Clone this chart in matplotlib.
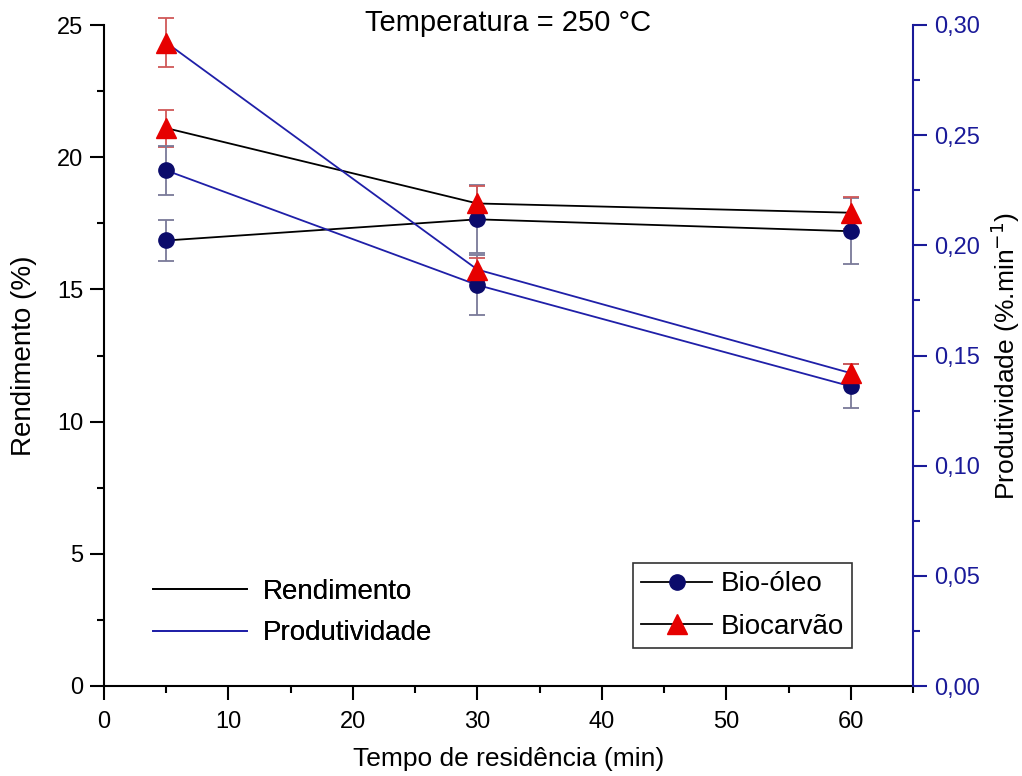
import matplotlib
matplotlib.use('Agg')
import matplotlib.pyplot as plt
from matplotlib.lines import Line2D
from matplotlib.ticker import MultipleLocator, FuncFormatter

plt.rcParams['font.family'] = ['Liberation Sans', 'DejaVu Sans']

# ---- data ----
tempo = [5, 30, 60]
rend_bio_oleo = [16.85, 17.65, 17.2]
rend_bio_oleo_err = [0.77, 1.28, 1.25]
rend_biocarvao = [21.1, 18.25, 17.9]
rend_biocarvao_err = [0.7, 0.65, 0.6]
prod_bio_oleo = [0.234, 0.182, 0.136]
prod_bio_oleo_err = [0.011, 0.0135, 0.010]
prod_biocarvao = [0.292, 0.189, 0.142]
prod_biocarvao_err = [0.011, 0.0054, 0.004]

left_ticks = [0, 5, 10, 15, 20, 25]
right_ticks = [0.00, 0.05, 0.10, 0.15, 0.20, 0.25, 0.30]
x_ticks = [0, 10, 20, 30, 40, 50, 60]

NAVY = '#0b0b6b'
RED = '#e60000'
BLUE = '#1f1fa8'
AXBLUE = '#1a1a99'
ERR_C = '#7a7a98'
ERR_T = '#d05858'

W, H = 1022, 776
fig = plt.figure(figsize=(W / 100, H / 100), dpi=100)
ax = fig.add_axes([104 / W, 90 / H, 809 / W, 661 / H])
ax2 = ax.twinx()

ms_c = 11
ms_t = 14
lw = 1.3
eb = dict(elinewidth=1.3, capsize=6, capthick=1.3, clip_on=False)
for a, y, e, fmt, col, mc, ecol, m in [
        (ax, rend_bio_oleo, rend_bio_oleo_err, '-o', 'black', NAVY, ERR_C, ms_c),
        (ax, rend_biocarvao, rend_biocarvao_err, '-^', 'black', RED, ERR_T, ms_t),
        (ax2, prod_bio_oleo, prod_bio_oleo_err, '-o', BLUE, NAVY, ERR_C, ms_c),
        (ax2, prod_biocarvao, prod_biocarvao_err, '-^', BLUE, RED, ERR_T, ms_t)]:
    cont = a.errorbar(tempo, y, yerr=e, fmt=fmt, color=col, lw=lw, mfc=mc, mec=mc,
                      ms=m, ecolor=ecol, **eb)
    for art in cont.lines[1] + cont.lines[2]:
        art.set_clip_on(False)

ax.set_xlim(0, 65)
ax.set_ylim(0, 25)
ax2.set_ylim(0, 0.30)

ax.set_xticks(x_ticks)
ax.xaxis.set_minor_locator(MultipleLocator(5))
ax.set_yticks(left_ticks)
ax.yaxis.set_minor_locator(MultipleLocator(2.5))
ax2.set_yticks(right_ticks)
ax2.yaxis.set_minor_locator(MultipleLocator(0.025))
ax2.yaxis.set_major_formatter(FuncFormatter(lambda v, p: f"{v:.2f}".replace('.', ',')))

for a in (ax, ax2):
    a.spines['top'].set_visible(False)
    a.tick_params(which='major', direction='out', length=10, width=1.5, labelsize=17, pad=5)
    a.tick_params(which='minor', direction='out', length=5, width=1.5)
ax.tick_params(axis='x', which='major', pad=8)
ax.spines['left'].set_linewidth(1.5)
ax.spines['bottom'].set_linewidth(1.5)
ax.spines['right'].set_visible(False)
ax2.spines['left'].set_visible(False)
ax2.spines['bottom'].set_visible(False)
ax2.spines['right'].set_color(AXBLUE)
ax2.spines['right'].set_linewidth(1.5)
ax2.tick_params(axis='y', which='both', colors=AXBLUE, labelcolor=AXBLUE)

ax.set_xlabel('Tempo de residência (min)', fontsize=19, labelpad=10)
ax.set_ylabel('Rendimento (%)', fontsize=20, labelpad=14)
ax2.set_ylabel('Produtividade (%.min$^{-1}$)', fontsize=19, labelpad=6)

fig.text(508 / W, 1 - 23 / H, 'Temperatura = 250 °C', fontsize=21, ha='center', va='center')

FS = 20
# legend 1: line types
h1 = [Line2D([], [], color='black', lw=lw), Line2D([], [], color=BLUE, lw=lw)]
leg1 = ax.legend(h1, ['Rendimento', 'Produtividade'], loc='upper left',
                 bbox_to_anchor=(153 / W, 1 - 579 / H), bbox_transform=fig.transFigure,
                 frameon=False, fontsize=FS, handlelength=3.4, handletextpad=0.55,
                 labelspacing=0.55, borderpad=0, borderaxespad=0)
ax.add_artist(leg1)

# legend 2: markers
h2 = [Line2D([], [], color='black', lw=lw, marker='o', mfc=NAVY, mec=NAVY, ms=ms_c),
      Line2D([], [], color='black', lw=lw, marker='^', mfc=RED, mec=RED, ms=ms_t)]
leg2 = ax2.legend(h2, ['Bio-óleo', 'Biocarvão'], loc='upper left',
                  bbox_to_anchor=(633 / W, 1 - 563 / H), bbox_transform=fig.transFigure,
                  frameon=True, fancybox=False, edgecolor='black', fontsize=FS,
                  handlelength=2.55, handletextpad=0.3, labelspacing=0.6,
                  borderpad=0.3, borderaxespad=0)
leg2.get_frame().set_linewidth(1.2)

fig.savefig('out.png', dpi=100)
